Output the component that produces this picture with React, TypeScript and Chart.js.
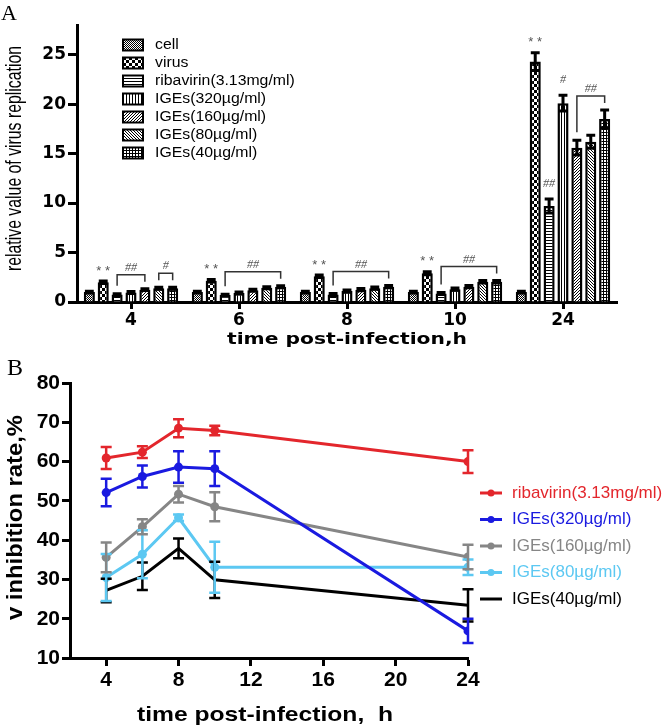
import React, { useEffect, useRef } from "react";
import { Chart, registerables } from "chart.js";
Chart.register(...registerables);

// ---------------- Panel A data ----------------
const timeGroupsA = ["4", "6", "8", "10", "24"];
const yTicksA = [0, 5, 10, 15, 20, 25];
const seriesLabelsA = [
  "cell",
  "virus",
  "ribavirin(3.13mg/ml)",
  "IGEs(320µg/ml)",
  "IGEs(160µg/ml)",
  "IGEs(80µg/ml)",
  "IGEs(40µg/ml)",
];
const cellValues = [1.0, 1.0, 1.0, 1.0, 1.0];
const virusValues = [2.0, 2.15, 2.6, 2.9, 24.3];
const ribavirinValues = [0.75, 0.7, 0.75, 0.85, 9.7];
const iges320Values = [0.95, 0.9, 1.1, 1.3, 20.1];
const iges160Values = [1.25, 1.2, 1.25, 1.55, 15.6];
const iges80Values = [1.4, 1.45, 1.4, 2.05, 16.2];
const iges40Values = [1.4, 1.55, 1.55, 2.05, 18.5];
const cellErrors = [0.08, 0.08, 0.08, 0.08, 0.08];
const virusErrors = [0.12, 0.12, 0.12, 0.15, 0.9];
const ribavirinErrors = [0.08, 0.08, 0.1, 0.1, 0.7];
const iges320Errors = [0.1, 0.1, 0.12, 0.12, 0.8];
const iges160Errors = [0.1, 0.1, 0.12, 0.12, 0.75];
const iges80Errors = [0.1, 0.1, 0.12, 0.12, 0.65];
const iges40Errors = [0.1, 0.1, 0.12, 0.12, 0.9];
// significance marks: [group index, series index, text]
const singleMarksA: [number, number, string][] = [
  [0, 1, "**"],
  [1, 1, "**"],
  [2, 1, "**"],
  [3, 1, "**"],
  [4, 1, "**"],
  [4, 2, "##"],
  [4, 3, "#"],
];
// brackets: [group index, first series, last series, text]
const bracketsA: [number, number, number, string][] = [
  [0, 2, 4, "##"],
  [0, 5, 6, "#"],
  [1, 2, 6, "##"],
  [2, 2, 6, "##"],
  [3, 2, 6, "##"],
  [4, 4, 6, "##"],
];

// ---------------- Panel B data ----------------
const timePointsB = [4, 6, 8, 10, 24];
const xTicksB = [4, 8, 12, 16, 20, 24];
const yTicksB = [10, 20, 30, 40, 50, 60, 70, 80];
const seriesLabelsB = [
  "ribavirin(3.13mg/ml)",
  "IGEs(320µg/ml)",
  "IGEs(160µg/ml)",
  "IGEs(80µg/ml)",
  "IGEs(40µg/ml)",
];
const ribavirinRate = [60.9, 62.4, 68.5, 67.9, 60.0];
const ribavirinRateErr = [2.8, 1.5, 2.3, 1.2, 2.9];
const iges320Rate = [52.1, 56.2, 58.6, 58.2, 16.9];
const iges320RateErr = [3.5, 2.8, 4.0, 4.4, 3.1];
const iges160Rate = [35.6, 43.4, 51.7, 48.5, 35.7];
const iges160RateErr = [3.8, 1.9, 2.1, 3.7, 3.1];
const iges80Rate = [30.5, 36.4, 45.7, 33.1, 33.1];
const iges80RateErr = [6.0, 6.1, 0.8, 6.5, 2.0];
const iges40Rate = [27.2, 30.8, 37.9, 29.9, 23.4];
const iges40RateErr = [3.0, 3.5, 2.5, 4.6, 4.1];

// ---------------- helpers ----------------
const PATTERN_BITMAPS: string[][] = [
  ["10", "01"],
  ["111000", "111000", "111000", "000111", "000111", "000111"],
  ["1", "0", "0"],
  ["100"],
  ["001", "010", "100"],
  ["100", "010", "001"],
  ["111", "100", "100"],
];

function makePattern(ctx: CanvasRenderingContext2D, bitmap: string[]) {
  const c = document.createElement("canvas");
  c.width = bitmap[0].length;
  c.height = bitmap.length;
  const g = c.getContext("2d")!;
  g.fillStyle = "#fff";
  g.fillRect(0, 0, c.width, c.height);
  g.fillStyle = "#000";
  bitmap.forEach((row, y) =>
    row.split("").forEach((ch, x) => {
      if (ch === "1") g.fillRect(x, y, 1, 1);
    })
  );
  return ctx.createPattern(c, "repeat")!;
}

function fitText(
  ctx: CanvasRenderingContext2D,
  text: string,
  cx: number,
  cy: number,
  font: string,
  targetWidth: number,
  rotate = 0,
  color = "#000"
) {
  ctx.save();
  ctx.font = font;
  const w = ctx.measureText(text).width;
  ctx.translate(cx, cy);
  if (rotate) ctx.rotate(rotate);
  ctx.scale(targetWidth / w, 1);
  ctx.fillStyle = color;
  ctx.textAlign = "center";
  ctx.textBaseline = "middle";
  ctx.fillText(text, 0, 0);
  ctx.restore();
}

function scaledText(
  ctx: CanvasRenderingContext2D,
  text: string,
  x: number,
  y: number,
  font: string,
  sx: number,
  color: string,
  align: CanvasTextAlign = "left",
  baseline: CanvasTextBaseline = "middle"
) {
  ctx.save();
  ctx.translate(x, y);
  ctx.scale(sx, 1);
  ctx.font = font;
  ctx.fillStyle = color;
  ctx.textAlign = align;
  ctx.textBaseline = baseline;
  ctx.fillText(text, 0, 0);
  ctx.restore();
}

function buildChartA(canvas: HTMLCanvasElement) {
  const ctx = canvas.getContext("2d")!;
  const values = [
    cellValues,
    virusValues,
    ribavirinValues,
    iges320Values,
    iges160Values,
    iges80Values,
    iges40Values,
  ];
  const errors = [
    cellErrors,
    virusErrors,
    ribavirinErrors,
    iges320Errors,
    iges160Errors,
    iges80Errors,
    iges40Errors,
  ];
  const patterns = PATTERN_BITMAPS.map((b) => makePattern(ctx, b));
  const tickFont = { family: "'DejaVu Sans', sans-serif", size: 17, weight: "bold" as const };

  const plugin = {
    id: "panelA",
    afterDatasetsDraw(chart: any) {
      const c = chart.ctx as CanvasRenderingContext2D;
      const y = chart.scales.y;
      // error bars
      c.save();
      c.strokeStyle = "#000";
      c.lineWidth = 3;
      values.forEach((vals, s) => {
        const meta = chart.getDatasetMeta(s);
        vals.forEach((v, g) => {
          const bar = meta.data[g];
          const yt = y.getPixelForValue(v + errors[s][g]);
          const yb = y.getPixelForValue(v - errors[s][g]);
          const hw = bar.width * 0.4;
          c.beginPath();
          c.moveTo(bar.x, yb);
          c.lineTo(bar.x, yt);
          c.moveTo(bar.x - hw, yt);
          c.lineTo(bar.x + hw, yt);
          c.moveTo(bar.x - hw, yb);
          c.lineTo(bar.x + hw, yb);
          c.stroke();
        });
      });
      c.restore();
      const topOf = (s: number, g: number) =>
        y.getPixelForValue(values[s][g] + errors[s][g]);
      // single marks
      singleMarksA.forEach(([g, s, text]) => {
        const bar = chart.getDatasetMeta(s).data[g];
        const star = text.startsWith("*");
        c.save();
        c.fillStyle = "#555";
        c.font = star ? "13px 'Liberation Sans'" : "italic 12px 'Liberation Serif'";
        c.textAlign = "center";
        c.textBaseline = "middle";
        c.fillText(star ? "* *" : text, bar.x, topOf(s, g) - (star ? 10 : 15));
        c.restore();
      });
      // brackets
      bracketsA.forEach(([g, s1, s2, text]) => {
        const b1 = chart.getDatasetMeta(s1).data[g];
        const b2 = chart.getDatasetMeta(s2).data[g];
        let highest = Infinity;
        for (let s = s1; s <= s2; s++) highest = Math.min(highest, topOf(s, g));
        const top = highest - 14;
        const l1 = Math.max(top + 7, topOf(s1, g) - 8);
        const l2 = Math.max(top + 7, topOf(s2, g) - 8);
        c.save();
        c.strokeStyle = "#333";
        c.lineWidth = 1.5;
        c.beginPath();
        c.moveTo(b1.x, l1);
        c.lineTo(b1.x, top);
        c.lineTo(b2.x, top);
        c.lineTo(b2.x, l2);
        c.stroke();
        c.fillStyle = "#555";
        c.font = "italic 12px 'Liberation Serif'";
        c.textAlign = "center";
        c.textBaseline = "bottom";
        c.fillText(text, (b1.x + b2.x) / 2, top - 1);
        c.restore();
      });
    },
    afterDraw(chart: any) {
      const c = chart.ctx as CanvasRenderingContext2D;
      const area = chart.chartArea;
      // legend
      seriesLabelsA.forEach((label, i) => {
        const cy = area.top + 20 + i * 18;
        const bx = area.left + 46;
        c.save();
        c.fillStyle = patterns[i];
        c.fillRect(bx, cy - 5.5, 20, 11);
        c.strokeStyle = "#000";
        c.lineWidth = 2;
        c.strokeRect(bx, cy - 5.5, 20, 11);
        c.restore();
        scaledText(c, label, bx + 32, cy, "14px 'Liberation Sans'", 1.13, "#000");
      });
      // axis titles
      fitText(c, "relative value of virus replication", 15, (area.top + area.bottom) / 2 - 5,
        "22px 'Liberation Sans'", 225, -Math.PI / 2);
      fitText(c, "time post-infection,h", (area.left + area.right) / 2, area.bottom + 38,
        "bold 16px 'DejaVu Sans'", 240);
      // panel letter
      c.save();
      c.font = "22px 'Liberation Serif'";
      c.fillStyle = "#000";
      c.textBaseline = "alphabetic";
      c.fillText("A", 1, 20);
      c.restore();
    },
  };

  return new Chart(canvas, {
    type: "bar",
    data: {
      labels: timeGroupsA,
      datasets: values.map((vals, i) => ({
        label: seriesLabelsA[i],
        data: vals,
        backgroundColor: patterns[i],
        borderColor: "#000",
        borderWidth: 2.5,
        categoryPercentage: 0.9,
        barPercentage: 0.8,
      })),
    },
    options: {
      animation: false,
      responsive: false,
      events: [],
      layout: { padding: { top: 25, right: 46, left: 0, bottom: 0 } },
      plugins: { legend: { display: false }, tooltip: { enabled: false } },
      scales: {
        x: {
          offset: true,
          grid: {
            offset: false,
            drawOnChartArea: false,
            tickLength: 7,
            tickWidth: 3,
            tickColor: "#000",
          },
          border: { width: 3, color: "#000" },
          ticks: { font: tickFont, color: "#000", padding: 1, maxRotation: 0 },
          afterFit: (s: any) => {
            s.height = 50;
          },
        },
        y: {
          min: 0,
          max: 28,
          afterBuildTicks: (ax: any) => {
            ax.ticks = yTicksA.map((v) => ({ value: v }));
          },
          grid: { drawOnChartArea: false, tickLength: 9, tickWidth: 3, tickColor: "#000" },
          border: { width: 3, color: "#000" },
          ticks: { font: tickFont, color: "#000", padding: 2 },
          afterFit: (s: any) => {
            s.width = 77;
          },
        },
      },
    },
    plugins: [plugin],
  } as any);
}

function buildChartB(canvas: HTMLCanvasElement) {
  const colors = ["#e3262c", "#1a1ae0", "#868686", "#5cc8f2", "#000000"];
  const rates = [ribavirinRate, iges320Rate, iges160Rate, iges80Rate, iges40Rate];
  const rateErrs = [ribavirinRateErr, iges320RateErr, iges160RateErr, iges80RateErr, iges40RateErr];
  const showPoints = [true, true, true, true, false];
  const tickFont = { family: "'Liberation Sans', Arial, sans-serif", size: 21, weight: "bold" as const };

  const plugin = {
    id: "panelB",
    afterDatasetsDraw(chart: any) {
      const c = chart.ctx as CanvasRenderingContext2D;
      const xs = chart.scales.x;
      const ys = chart.scales.y;
      for (let s = rates.length - 1; s >= 0; s--) {
        c.save();
        c.strokeStyle = colors[s];
        c.lineWidth = 2.5;
        rates[s].forEach((v, i) => {
          const x = xs.getPixelForValue(timePointsB[i]);
          const yt = ys.getPixelForValue(v + rateErrs[s][i]);
          const yb = ys.getPixelForValue(v - rateErrs[s][i]);
          c.beginPath();
          c.moveTo(x, yt);
          c.lineTo(x, yb);
          c.moveTo(x - 5.5, yt);
          c.lineTo(x + 5.5, yt);
          c.moveTo(x - 5.5, yb);
          c.lineTo(x + 5.5, yb);
          c.stroke();
        });
        c.restore();
      }
    },
    afterDraw(chart: any) {
      const c = chart.ctx as CanvasRenderingContext2D;
      const area = chart.chartArea;
      // legend
      seriesLabelsB.forEach((label, i) => {
        const cy = 141 + i * 26.5;
        c.save();
        c.strokeStyle = colors[i];
        c.lineWidth = 3;
        c.beginPath();
        c.moveTo(480, cy);
        c.lineTo(502, cy);
        c.stroke();
        if (showPoints[i]) {
          c.fillStyle = colors[i];
          c.beginPath();
          c.arc(491, cy, 3.5, 0, Math.PI * 2);
          c.fill();
        }
        c.font = "17px 'Liberation Sans'";
        c.fillStyle = colors[i];
        c.textBaseline = "middle";
        c.fillText(label, 512, cy);
        c.restore();
      });
      fitText(c, "v inhibition rate,%", 16, (area.top + area.bottom) / 2 - 3,
        "bold 22px 'Liberation Sans'", 205, -Math.PI / 2);
      fitText(c, "time post-infection,  h", (area.left + area.right) / 2 - 4, area.bottom + 57,
        "bold 21px 'Liberation Sans'", 256);
      c.save();
      c.font = "24px 'Liberation Serif'";
      c.fillStyle = "#000";
      c.fillText("B", 7, 23);
      c.restore();
    },
  };

  return new Chart(canvas, {
    type: "line",
    data: {
      datasets: rates.map((vals, i) => ({
        label: seriesLabelsB[i],
        data: vals.map((v, j) => ({ x: timePointsB[j], y: v })),
        borderColor: colors[i],
        backgroundColor: colors[i],
        borderWidth: 3,
        pointRadius: showPoints[i] ? 4.5 : 0,
        pointBorderWidth: 0,
        tension: 0,
      })),
    },
    options: {
      animation: false,
      responsive: false,
      events: [],
      layout: { padding: { top: 31, right: 195, left: 0, bottom: 0 } },
      plugins: { legend: { display: false }, tooltip: { enabled: false } },
      scales: {
        x: {
          type: "linear",
          min: 2,
          max: 24,
          afterBuildTicks: (ax: any) => {
            ax.ticks = xTicksB.map((v) => ({ value: v }));
          },
          grid: { drawOnChartArea: false, tickLength: 8, tickWidth: 3, tickColor: "#000" },
          border: { width: 3, color: "#000" },
          ticks: { font: tickFont, color: "#000", padding: 2, maxRotation: 0 },
          afterFit: (s: any) => {
            s.height = 69;
          },
        },
        y: {
          min: 10,
          max: 80,
          afterBuildTicks: (ax: any) => {
            ax.ticks = yTicksB.map((v) => ({ value: v }));
          },
          grid: { drawOnChartArea: false, tickLength: 8, tickWidth: 3, tickColor: "#000" },
          border: { width: 3, color: "#000" },
          ticks: { font: tickFont, color: "#000", padding: 2 },
          afterFit: (s: any) => {
            s.width = 70;
          },
        },
      },
    },
    plugins: [plugin],
  } as any);
}

export default function App() {
  const refA = useRef<HTMLCanvasElement>(null);
  const refB = useRef<HTMLCanvasElement>(null);
  useEffect(() => {
    const a = buildChartA(refA.current!);
    const b = buildChartB(refB.current!);
    return () => {
      a.destroy();
      b.destroy();
    };
  }, []);
  return (
    <div style={{ position: "fixed", left: 0, top: 0, width: 663, height: 727, background: "#fff" }}>
      <canvas
        ref={refA}
        width={663}
        height={352}
        style={{ position: "absolute", left: 0, top: 0, display: "block" }}
      />
      <canvas
        ref={refB}
        width={663}
        height={375}
        style={{ position: "absolute", left: 0, top: 352, display: "block" }}
      />
    </div>
  );
}
